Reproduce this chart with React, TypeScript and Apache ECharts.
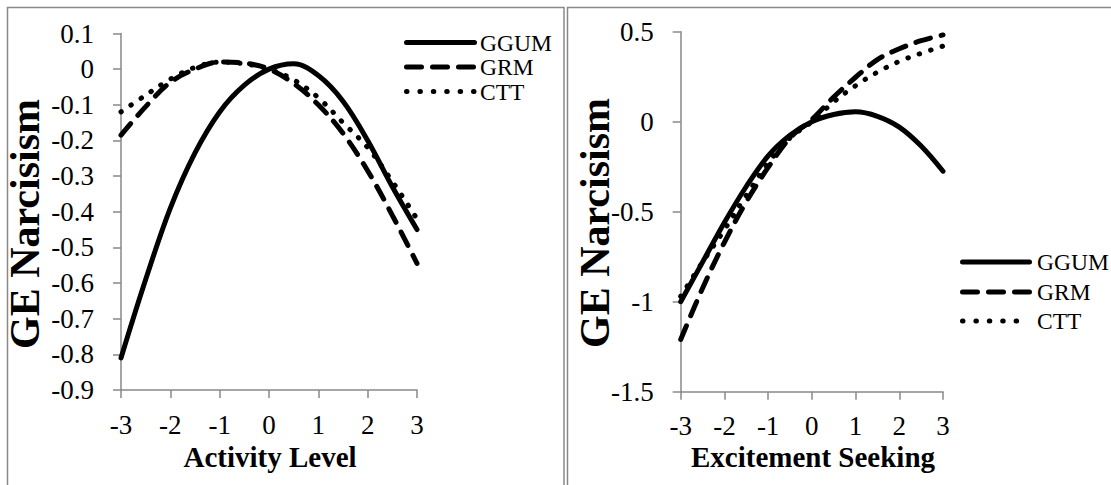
import React, { useEffect, useRef } from "react";
import * as echarts from "echarts";

const xs = [-3, -2.5, -2, -1.5, -1, -0.5, 0, 0.5, 1, 1.5, 2, 2.5, 3];
const seriesNames = ["GGUM", "GRM", "CTT"];

const activityGGUM = [-0.81, -0.59, -0.39, -0.235, -0.12, -0.045, 0.0, 0.015, -0.018, -0.09, -0.2, -0.33, -0.45];
const activityGRM = [-0.185, -0.105, -0.037, 0.0, 0.02, 0.017, 0.0, -0.04, -0.1, -0.18, -0.285, -0.41, -0.545];
const activityCTT = [-0.12, -0.073, -0.028, 0.005, 0.02, 0.015, 0.0, -0.03, -0.08, -0.15, -0.22, -0.315, -0.42];

const excitementGGUM = [-1.0, -0.78, -0.56, -0.36, -0.19, -0.075, 0.0, 0.04, 0.055, 0.03, -0.03, -0.135, -0.275];
const excitementGRM = [-1.21, -0.925, -0.67, -0.445, -0.254, -0.09, 0.012, 0.137, 0.247, 0.345, 0.405, 0.45, 0.482];
const excitementCTT = [-0.97, -0.78, -0.6, -0.41, -0.23, -0.09, 0.0, 0.11, 0.2, 0.275, 0.335, 0.38, 0.42];

const leftTitleX = "Activity Level";
const rightTitleX = "Excitement Seeking";
const titleY = "GE Narcisism";

const FONT = "Liberation Serif";
const AXIS_GRAY = "#898989";

const curveDash: any[] = ["solid", [15, 11], [0.5, 11.5]];
const legendDash: any[] = [null, [15, 11], [0.5, 12.9]];

function pairs(vals: number[]) {
  return xs.map((x, i) => [x, vals[i]]);
}

function fmt(v: number) {
  const r = Math.round(v * 10) / 10;
  return r === 0 ? "0" : String(r);
}

function textStyle(text: string, size: number, bold: boolean, align: string, lineHeight?: number) {
  return {
    text,
    fill: "#000",
    fontFamily: FONT,
    fontSize: size,
    fontWeight: bold ? "bold" : "normal",
    lineHeight: lineHeight ?? size,
    textAlign: align,
    textVerticalAlign: "middle",
  };
}

function legendGraphics(x0: number, x1: number, textX: number, ys: number[], size: number) {
  const out: any[] = [];
  seriesNames.forEach((name, i) => {
    out.push({
      type: "line",
      silent: true,
      shape: { x1: x0, y1: ys[i], x2: x1, y2: ys[i] },
      style: { stroke: "#000", lineWidth: 5, lineCap: "round", lineDash: legendDash[i] },
    });
    out.push({
      type: "text",
      silent: true,
      x: textX,
      y: ys[i],
      style: textStyle(name, size, false, "left", size),
    });
  });
  return out;
}

export default function App() {
  const ref = useRef<HTMLDivElement>(null);
  useEffect(() => {
    if (!ref.current) return;
    const chart = echarts.init(ref.current, undefined, { renderer: "svg" });
    const xAxisBase = (gridIndex: number) => ({
      type: "value" as const,
      gridIndex,
      min: -3,
      max: 3,
      interval: 1,
      axisLine: { show: true, onZero: false, lineStyle: { color: AXIS_GRAY, width: 1.5 } },
      axisTick: { show: true, length: 8, lineStyle: { color: AXIS_GRAY, width: 1.5 } },
      splitLine: { show: false },
      axisLabel: { color: "#000", fontFamily: FONT, fontSize: 27, margin: 21, formatter: (v: number) => String(v) },
    });
    const yAxisBase = (gridIndex: number, min: number, max: number, interval: number) => ({
      type: "value" as const,
      gridIndex,
      min,
      max,
      interval,
      axisLine: { show: true, onZero: false, lineStyle: { color: AXIS_GRAY, width: 1.5 } },
      axisTick: { show: true, length: 8, lineStyle: { color: AXIS_GRAY, width: 1.5 } },
      splitLine: { show: false },
      axisLabel: { color: "#000", fontFamily: FONT, fontSize: 27, margin: 27, formatter: fmt },
    });
    const leftData = [activityGGUM, activityGRM, activityCTT];
    const rightData = [excitementGGUM, excitementGRM, excitementCTT];
    const series: any[] = [];
    [leftData, rightData].forEach((group, g) =>
      group.forEach((d, i) =>
        series.push({
          name: seriesNames[i],
          type: "line",
          xAxisIndex: g,
          yAxisIndex: g,
          data: pairs(d),
          smooth: 0.35,
          showSymbol: false,
          symbol: "none",
          lineStyle: { width: 5, type: curveDash[i], cap: "round", color: "#000" },
          itemStyle: { color: "#000" },
          z: 3 - i,
        })
      )
    );
    chart.setOption({
      animation: false,
      backgroundColor: "#fff",
      grid: [
        { left: 121, top: 33.5, width: 296, height: 356.5 },
        { left: 680.7, top: 31.7, width: 262.3, height: 360 },
      ],
      xAxis: [xAxisBase(0), xAxisBase(1)],
      yAxis: [yAxisBase(0, -0.9, 0.1, 0.1), yAxisBase(1, -1.5, 0.5, 0.5)],
      graphic: [
        { type: "rect", silent: true, shape: { x: 7.5, y: 7.5, width: 556.5, height: 520 }, style: { fill: "none", stroke: AXIS_GRAY, lineWidth: 1.5 } },
        { type: "rect", silent: true, shape: { x: 567.5, y: 7.5, width: 600, height: 520 }, style: { fill: "none", stroke: AXIS_GRAY, lineWidth: 1.5 } },
        { type: "text", silent: true, x: 270, y: 457, style: textStyle(leftTitleX, 29, true, "center") },
        { type: "text", silent: true, x: 813, y: 457, style: textStyle(rightTitleX, 29, true, "center") },
        { type: "text", silent: true, x: 25, y: 224, rotation: Math.PI / 2, style: textStyle(titleY, 42, true, "center") },
        { type: "text", silent: true, x: 595, y: 223, rotation: Math.PI / 2, style: textStyle(titleY, 42, true, "center") },
        ...legendGraphics(406.5, 474.5, 480, [42.5, 67, 91.5], 23.5),
        ...legendGraphics(962.5, 1029.5, 1037, [262, 292, 321], 23.5),
      ],
      series,
    });
    return () => chart.dispose();
  }, []);
  return (
    <div
      ref={ref}
      style={{ position: "fixed", left: 0, top: 0, width: 1111, height: 485, background: "#fff" }}
    />
  );
}
